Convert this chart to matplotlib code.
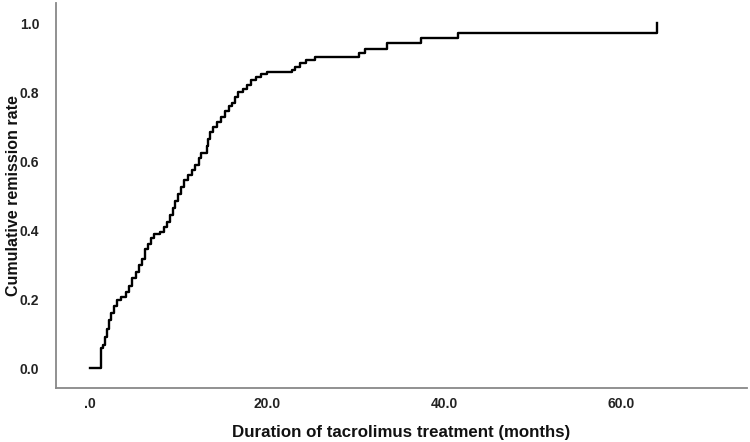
import matplotlib
matplotlib.use("Agg")
import matplotlib.pyplot as plt

# cumulative remission estimates (months, rate)
months = [0.0, 1.24, 1.47, 1.7, 1.92, 2.15, 2.37, 2.7, 3.05, 3.5, 4.07, 4.4, 4.75,
          5.2, 5.55, 5.9, 6.2, 6.55, 6.9, 7.25, 7.9, 8.35, 8.7, 9.05, 9.4, 9.6,
          9.95, 10.3, 10.6, 11.05, 11.5, 11.85, 12.3, 12.55, 13.2, 13.35, 13.55,
          13.9, 14.35, 14.8, 15.25, 15.7, 16.05, 16.4, 16.8, 17.3, 17.75, 18.2,
          18.75, 19.3, 20.0, 22.9, 23.2, 23.7, 24.4, 25.5, 30.4, 31.1, 33.6,
          37.4, 41.6, 64.1]
remission = [0.0, 0.058, 0.068, 0.09, 0.115, 0.14, 0.16, 0.18, 0.197, 0.207, 0.22,
             0.24, 0.262, 0.28, 0.30, 0.318, 0.345, 0.36, 0.378, 0.39, 0.395, 0.41,
             0.425, 0.445, 0.465, 0.485, 0.505, 0.525, 0.545, 0.56, 0.575, 0.59,
             0.61, 0.624, 0.645, 0.665, 0.685, 0.70, 0.715, 0.73, 0.745, 0.76,
             0.77, 0.787, 0.80, 0.81, 0.822, 0.835, 0.845, 0.852, 0.86, 0.866,
             0.875, 0.886, 0.894, 0.903, 0.914, 0.926, 0.943, 0.958, 0.972, 1.0]

x_ticks = [0, 20, 40, 60]
x_labels = [".0", "20.0", "40.0", "60.0"]
y_ticks = [0.0, 0.2, 0.4, 0.6, 0.8, 1.0]
y_labels = ["0.0", "0.2", "0.4", "0.6", "0.8", "1.0"]

plt.rcParams['font.family'] = ['Liberation Sans', 'DejaVu Sans']

fig = plt.figure(figsize=(7.5, 4.42), dpi=100)
ax = fig.add_axes([0.0747, 0.123, 0.921, 0.870])

ax.step(months, remission, where='post', color='black', linewidth=1.7)

ax.set_xlim(-3.8, 74.2)
ax.set_ylim(-0.056, 1.059)

ax.set_xticks(x_ticks)
ax.set_xticklabels(x_labels, fontsize=10, fontweight='bold', color='#222222')
ax.set_yticks(y_ticks)
ax.set_yticklabels(y_labels, fontsize=10, fontweight='bold', color='#222222')
ax.tick_params(axis='both', length=0)
ax.tick_params(axis='x', pad=7)
ax.tick_params(axis='y', pad=12)

for side in ['top', 'right']:
    ax.spines[side].set_visible(False)
for side in ['left', 'bottom']:
    ax.spines[side].set_color('#888888')
    ax.spines[side].set_linewidth(1.3)

ax.set_xlabel('Duration of tacrolimus treatment (months)', fontsize=12.2,
              fontweight='bold', color='#111111', labelpad=10)
ax.set_ylabel('Cumulative remission rate', fontsize=11.5, fontweight='bold',
              color='#111111')
ax.yaxis.set_label_coords(-0.05, 0.5)

fig.savefig('out.png', dpi=100)
